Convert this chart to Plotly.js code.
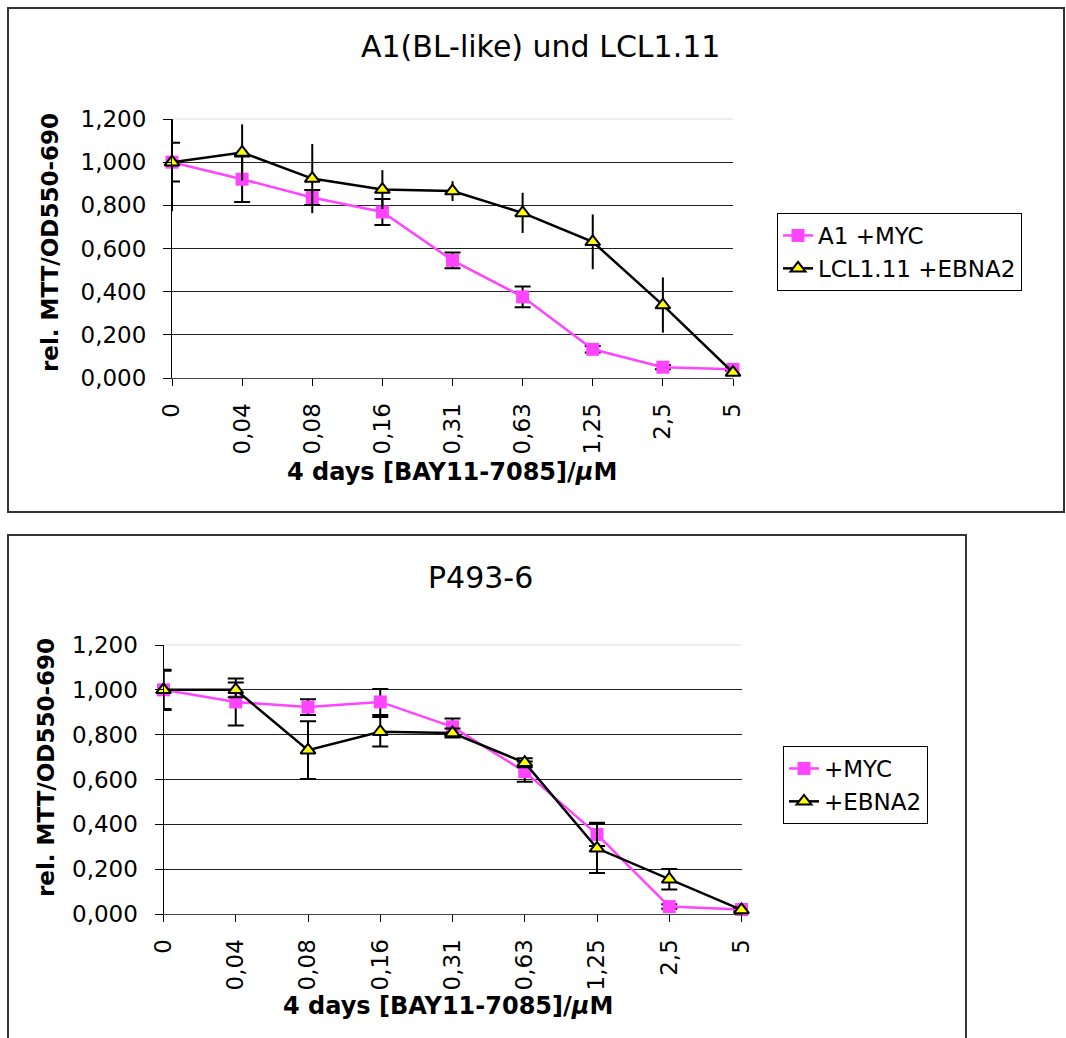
<!DOCTYPE html>
<html><head><meta charset="utf-8">
<script src="https://cdn.plot.ly/plotly-3.0.1.min.js"></script>
<style>html,body{margin:0;padding:0;background:#fff}#chart{width:1066px;height:1038px}</style>
</head><body><div id="chart"></div>
<script>
// ---- data ----
const categories = ['0','0,04','0,08','0,16','0,31','0,63','1,25','2,5','5'];

const topTitle = 'A1(BL-like) und LCL1.11';
const topMycName = 'A1 +MYC';
const topMyc     = [1.000, 0.921, 0.836, 0.769, 0.545, 0.376, 0.133, 0.050, 0.040];
const topMycErr  = [0.090, 0.105, 0.035, 0.060, 0.036, 0.048, 0.015, 0.010, 0.005];
const topEbnaName = 'LCL1.11 +EBNA2';
const topEbna    = [1.000, 1.045, 0.924, 0.873, 0.866, 0.765, 0.631, 0.338, 0.025];
const topEbnaErr = [0.227, 0.130, 0.160, 0.090, 0.046, 0.093, 0.127, 0.128, 0.000];

const botTitle = 'P493-6';
const botMycName = '+MYC';
const botMyc     = [1.000, 0.946, 0.923, 0.946, 0.835, 0.635, 0.355, 0.033, 0.020];
const botMycErr  = [0.090, 0.105, 0.035, 0.058, 0.037, 0.045, 0.052, 0.010, 0.005];
const botEbnaName = '+EBNA2';
const botEbna    = [1.000, 1.000, 0.731, 0.813, 0.807, 0.675, 0.293, 0.155, 0.018];
const botEbnaErr = [0.085, 0.033, 0.129, 0.066, 0.020, 0.020, 0.110, 0.046, 0.010];

const yTickVals = [0, 0.2, 0.4, 0.6, 0.8, 1.0, 1.2];
const yTickText = ['0,000','0,200','0,400','0,600','0,800','1,000','1,200'];
const yTitle = 'rel. MTT/OD550-690';
const xTitle = '4 days [BAY11-7085]/<i>µ</i>M';

// ---- layout helpers ----
const W = 1066, H = 1038;
const px = x => x / W;
const py = y => 1 - y / H;
const FONT = 'DejaVu Sans, Verdana, sans-serif';
const MAG = '#ff44ff';

function series(name, x, y, err, color, symbol, capw, xa, ya, leg) {
  const isTri = symbol === 'triangle-up';
  return {
    type: 'scatter', mode: 'lines+markers', name: name, x: x, y: y,
    xaxis: xa, yaxis: ya, legend: leg, cliponaxis: false,
    line: {color: color, width: 2.5},
    marker: isTri ? {symbol: symbol, size: 13, color: '#ffff00', line: {color: '#000', width: 2}}
                  : {symbol: symbol, size: 13, color: color, line: {width: 0}},
    error_y: {type: 'data', array: err, visible: true, color: '#000', thickness: 2, width: capw}
  };
}

const data = [
  series(topMycName, categories, topMyc, topMycErr, MAG, 'square', 8, 'x', 'y', 'legend'),
  series(topEbnaName, categories, topEbna, topEbnaErr, '#000', 'triangle-up', 0, 'x', 'y', 'legend'),
  series(botMycName, categories, botMyc, botMycErr, MAG, 'square', 8, 'x2', 'y2', 'legend2'),
  series(botEbnaName, categories, botEbna, botEbnaErr, '#000', 'triangle-up', 8, 'x2', 'y2', 'legend2')
];

function xAxis(x0, x1, anchor) {
  return {
    domain: [px(x0), px(x1)], anchor: anchor, type: 'category', range: [0, 8],
    tickangle: -90, ticks: 'outside', ticklen: 7, tickwidth: 1, tickcolor: '#000',
    showline: true, linecolor: '#444', linewidth: 1, showgrid: false, zeroline: false,
    tickfont: {family: FONT, size: 23, color: '#000'}, ticklabelstandoff: 8
  };
}
function yAxis(y0, y1, anchor) {
  return {
    domain: [py(y0), py(y1)], anchor: anchor, range: [0, 1.2],
    tickvals: yTickVals, ticktext: yTickText,
    ticks: 'outside', ticklen: 8, tickwidth: 1, tickcolor: '#000',
    showline: true, linecolor: '#000', linewidth: 1,
    showgrid: true, gridcolor: '#222', gridwidth: 1, zeroline: false,
    tickfont: {family: FONT, size: 23, color: '#000'}, ticklabelstandoff: 12
  };
}

const ann = (text, x, y, size, bold, angle) => ({
  text: bold ? '<b>' + text + '</b>' : text, xref: 'paper', yref: 'paper',
  x: px(x), y: py(y), xanchor: 'center', yanchor: 'middle', showarrow: false,
  textangle: angle || 0, font: {family: FONT, size: size, color: '#000'}
});

const frame = (x0, y0, x1, y1) => ({
  type: 'rect', xref: 'paper', yref: 'paper', x0: px(x0), y0: py(y0), x1: px(x1), y1: py(y1),
  line: {color: '#333', width: 2}, fillcolor: 'rgba(0,0,0,0)', layer: 'below'
});
const lightTop = (x0, x1, y) => ({
  type: 'line', xref: 'paper', yref: 'paper', x0: px(x0 + 1), x1: px(x1), y0: py(y), y1: py(y),
  line: {color: '#e8e8e8', width: 1.5}, layer: 'between'
});

const legendBase = {
  xanchor: 'left', yanchor: 'top', bordercolor: '#000', borderwidth: 1, bgcolor: '#fff',
  font: {family: FONT, size: 23, color: '#000'}, tracegroupgap: 0
};

const layout = {
  width: W, height: H, margin: {l: 0, r: 0, t: 0, b: 0},
  paper_bgcolor: '#fff', plot_bgcolor: 'rgba(0,0,0,0)', showlegend: true,
  xaxis: xAxis(172, 733, 'y'), yaxis: yAxis(378, 119, 'x'),
  xaxis2: xAxis(163.5, 741.5, 'y2'), yaxis2: yAxis(914, 645, 'x2'),
  legend: Object.assign({x: px(777), y: py(213)}, legendBase),
  legend2: Object.assign({x: px(783), y: py(746)}, legendBase),
  shapes: [frame(8, 8, 1064, 512), frame(8, 535, 966, 1045),
           lightTop(172, 733, 119), lightTop(163.5, 741.5, 645)],
  annotations: [
    ann(topTitle, 540, 47, 30, false),
    ann(yTitle, 50, 243, 23, true, -90),
    ann(xTitle, 452, 472, 24, true),
    ann(botTitle, 480, 577, 30, false),
    ann(yTitle, 46, 768, 23, true, -90),
    ann(xTitle, 448, 1006, 24, true)
  ]
};

Plotly.newPlot('chart', data, layout, {displayModeBar: false, staticPlot: true});
</script>
</body></html>
